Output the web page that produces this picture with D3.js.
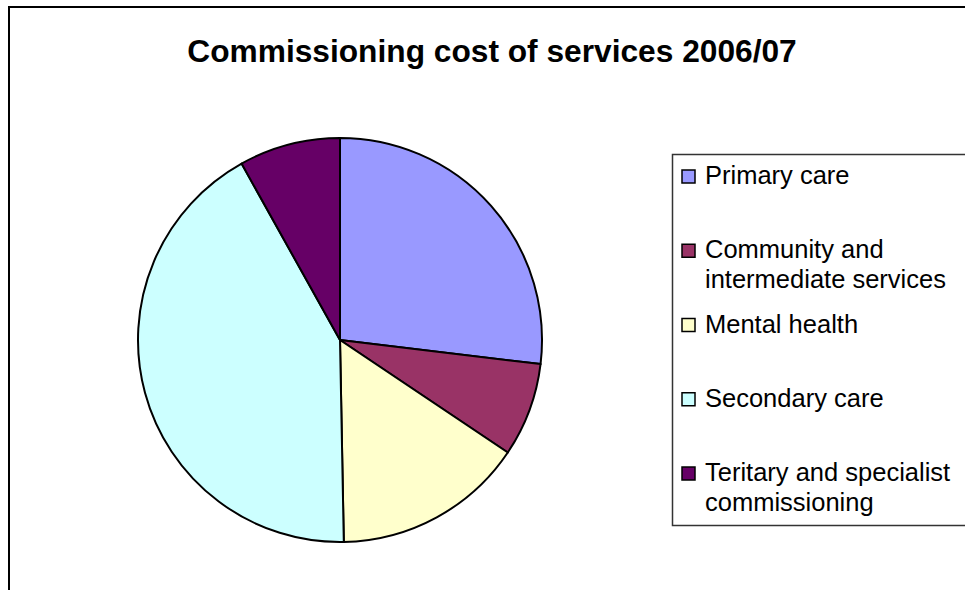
<!DOCTYPE html>
<html>
<head>
<meta charset="utf-8">
<script src="https://cdn.jsdelivr.net/npm/d3@7"></script>
<style>
body { margin: 0; background: #fff; }
svg { display: block; font-family: "Liberation Sans", Arial, sans-serif; }
</style>
</head>
<body>
<script>
var categories = ["Primary care", "Community and intermediate services", "Mental health", "Secondary care", "Teritary and specialist commissioning"];
var legendLines = [["Primary care"], ["Community and", "intermediate services"], ["Mental health"], ["Secondary care"], ["Teritary and specialist", "commissioning"]];
var shares = [26.9, 7.5, 15.3, 42.2, 8.1];
var colours = ["#9999FF", "#993366", "#FFFFCC", "#CCFFFF", "#660066"];
var title = "Commissioning cost of services 2006/07";

function addSvg(){
	return d3.select("body")
	.append("svg")
	.attr("width", 965)
	.attr("height", 590);
}

function drawFrame(svg){
	svg.append("rect")
	.attr("x", 9)
	.attr("y", 7)
	.attr("width", 1000)
	.attr("height", 1000)
	.attr("fill", "#fff")
	.attr("stroke", "#000")
	.attr("stroke-width", 2);

	svg.append("text")
	.attr("x", 492)
	.attr("y", 62)
	.attr("text-anchor", "middle")
	.attr("font-size", 31.7)
	.attr("font-weight", "bold")
	.text(title);
}

function drawPie(svg){
	var pie = d3.pie().sort(null).value(function(d){ return d; });
	var arc = d3.arc().innerRadius(0).outerRadius(202);
	var color = d3.scaleOrdinal().domain(categories).range(colours);

	var g = svg.append("g").attr("transform", "translate(340,340)");
	g.selectAll("path")
	.data(pie(shares))
	.enter()
	.append("path")
	.attr("d", arc)
	.attr("fill", function(d, i){ return color(categories[i]); })
	.attr("stroke", "#000")
	.attr("stroke-width", 2)
	.attr("stroke-linejoin", "round");
}

function drawLegend(svg){
	var color = d3.scaleOrdinal().domain(categories).range(colours);
	var y = d3.scalePoint().domain(categories).range([184, 481]);

	svg.append("rect")
	.attr("x", 672.5)
	.attr("y", 154.5)
	.attr("width", 400)
	.attr("height", 371)
	.attr("fill", "#fff")
	.attr("stroke", "#333")
	.attr("stroke-width", 1.5);

	var items = svg.selectAll("g.item")
	.data(categories)
	.enter()
	.append("g")
	.attr("class", "item")
	.attr("transform", function(d){ return "translate(0," + y(d) + ")"; });

	items.append("rect")
	.attr("x", 682)
	.attr("y", -14)
	.attr("width", 13)
	.attr("height", 13)
	.attr("fill", function(d){ return color(d); })
	.attr("stroke", "#000")
	.attr("stroke-width", 1.5);

	items.each(function(d, i){
		var t = d3.select(this).append("text")
		.attr("font-size", 25.5);
		legendLines[i].forEach(function(line, k){
			t.append("tspan")
			.attr("x", 705)
			.attr("y", k * 30)
			.text(line);
		});
	});
}

var svg = addSvg();
drawFrame(svg);
drawPie(svg);
drawLegend(svg);
</script>
</body>
</html>
